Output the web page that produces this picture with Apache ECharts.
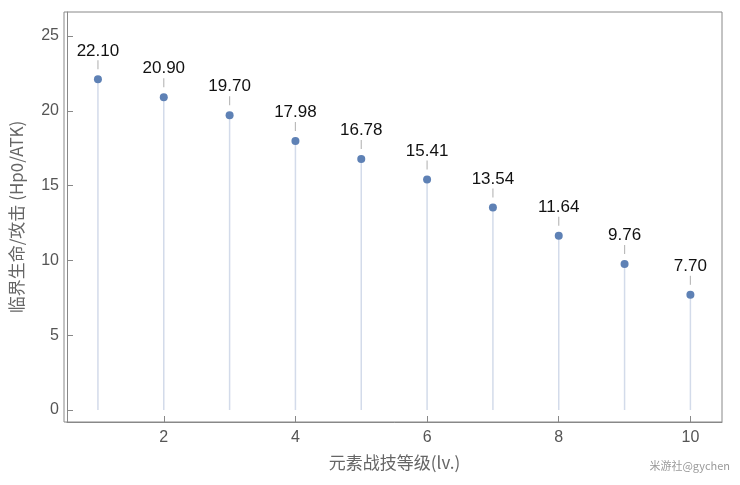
<!DOCTYPE html><html><head><meta charset="utf-8">
<script src="https://cdn.jsdelivr.net/npm/echarts@6/dist/echarts.min.js"></script>
<style>html,body{margin:0;padding:0;background:#fff}#c{width:740px;height:485px}</style></head>
<body><div id="c"></div><script>
const levels=[1,2,3,4,5,6,7,8,9,10];
const values=[22.10,20.90,19.70,17.98,16.78,15.41,13.54,11.64,9.76,7.70];
const labels=["22.10","20.90","19.70","17.98","16.78","15.41","13.54","11.64","9.76","7.70"];
const xTicks=[2,4,6,8,10];
const yTicks=[0,5,10,15,20,25];
const data=levels.map((l,i)=>[l,values[i]]);
const ax={color:'#555',fontSize:16,fontFamily:'Liberation Sans'};
const chart=echarts.init(document.getElementById('c'));
chart.setOption({
 animation:false,
 grid:{left:64,right:18,top:12,bottom:63},
 xAxis:{type:'value',min:0.53,max:10.48,
  name:'元素战技等级(lv.)',nameLocation:'middle',nameGap:32,nameTextStyle:{color:'#666',fontSize:17,fontFamily:'Noto Sans CJK SC'},
  axisLine:{onZero:false,lineStyle:{color:'#888'}},splitLine:{show:false},
  axisTick:{inside:true,length:6,lineStyle:{color:'#888'},customValues:xTicks},
  axisLabel:Object.assign({customValues:xTicks},ax)},
 yAxis:{type:'value',min:-0.8,max:26.6,
  name:'临界生命/攻击 (Hp0/ATK)',nameLocation:'middle',nameGap:42,nameTextStyle:{color:'#666',fontSize:17,fontFamily:'Noto Sans CJK SC'},
  axisLine:{show:true,onZero:false,lineStyle:{color:'#888'}},splitLine:{show:false},
  axisTick:{show:true,inside:true,length:6,lineStyle:{color:'#888'},customValues:yTicks},
  axisLabel:Object.assign({customValues:yTicks},ax)},
 graphic:[{type:'rect',shape:{x:64,y:12,width:658,height:410},style:{fill:'none',stroke:'#888',lineWidth:1}},
  {type:'text',right:10,bottom:14,style:{text:'米游社@gychen',fill:'#999',fontSize:11,fontFamily:'Noto Sans CJK SC'}}],
 series:[
  {type:'custom',data:data,renderItem:(p,api)=>{
    const top=api.coord([api.value(0),api.value(1)]);
    const bot=api.coord([api.value(0),0]);
    return {type:'group',children:[
     {type:'line',shape:{x1:top[0],y1:top[1],x2:bot[0],y2:bot[1]},style:{stroke:'#d3dbea',lineWidth:1.5}},
     {type:'line',shape:{x1:top[0],y1:top[1]-10,x2:top[0],y2:top[1]-19},style:{stroke:'#bbb',lineWidth:1.2}},
     {type:'text',x:top[0],y:top[1]-20,style:{text:labels[p.dataIndex],textAlign:'center',textVerticalAlign:'bottom',fill:'#111',fontSize:17,fontFamily:'Liberation Sans'}}
    ]};
  }},
  {type:'scatter',data:data,symbolSize:8,itemStyle:{color:'#5e81b5',opacity:1}}
 ]
});
</script></body></html>
